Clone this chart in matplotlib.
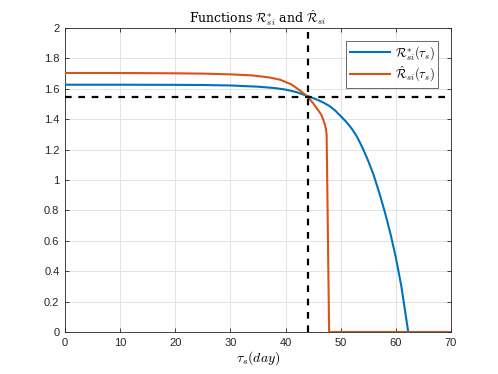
import matplotlib
matplotlib.use("Agg")
import matplotlib.pyplot as plt

# Data
blue_x = [0, 10, 20, 25, 30, 35, 38, 40, 42, 44, 45, 46, 47, 48, 49, 50, 51, 52, 53, 54, 55, 56, 57, 58,
          59, 60, 61, 62, 62.25]
blue_y = [1.627, 1.627, 1.626, 1.625, 1.622, 1.614, 1.605, 1.595, 1.578, 1.552, 1.539, 1.524, 1.507,
          1.486, 1.457, 1.42, 1.383, 1.338, 1.282, 1.208, 1.125, 1.03, 0.915, 0.79, 0.65, 0.49, 0.30,
          0.06, 0.0]
orange_x = [0, 10, 20, 25, 30, 34, 37, 39, 41, 42, 43, 44, 45, 46, 46.5, 47, 47.3, 47.45, 47.9, 70]
orange_y = [1.704, 1.704, 1.702, 1.70, 1.695, 1.688, 1.675, 1.66, 1.63, 1.605, 1.578, 1.548,
            1.505, 1.455, 1.428, 1.38, 1.34, 1.296, 0.0, 0.0]
vline_x = 44
hline_y = 1.546

xticks = [0, 10, 20, 30, 40, 50, 60, 70]
yticks = [0, 0.2, 0.4, 0.6, 0.8, 1, 1.2, 1.4, 1.6, 1.8, 2]
ytick_labels = ["0", "0.2", "0.4", "0.6", "0.8", "1", "1.2", "1.4", "1.6", "1.8", "2"]

plt.rcParams['font.family'] = ['Liberation Sans', 'DejaVu Sans']
plt.rcParams['mathtext.fontset'] = 'cm'

fig = plt.figure(figsize=(4.98, 3.74), dpi=100)
ax = fig.add_axes([0.1305, 0.1123, 0.7751, 0.8128])

ax.plot(blue_x, blue_y, color='#0072BD', lw=1.5, label=r'$\mathcal{R}^{*}_{si}(\tau_s)$', zorder=3)
ax.plot(orange_x, orange_y, color='#D95319', lw=1.5, label=r'$\hat{\mathcal{R}}_{si}(\tau_s)$', zorder=3)
ax.axvline(vline_x, color='black', lw=1.6, ls=(0, (3, 3)), zorder=4)
ax.axhline(hline_y, color='black', lw=1.6, ls=(0, (3, 3)), zorder=4)

ax.set_xlim(0, 70)
ax.set_ylim(0, 2)
ax.set_xticks(xticks)
ax.set_yticks(yticks)
ax.set_yticklabels(ytick_labels)
ax.grid(True, color='#e3e3e3', lw=0.7)
ax.set_axisbelow(True)
ax.tick_params(direction='in', length=3, width=0.6, top=True, right=True,
               labelsize=8, colors='#262626', pad=4)
for s in ax.spines.values():
    s.set_color('#262626')
    s.set_linewidth(0.6)

ax.set_title(r'Functions $\mathcal{R}^{*}_{si}$ and $\hat{\mathcal{R}}_{si}$',
             fontsize=9, family='serif', pad=4)
ax.set_xlabel(r'$\tau_s(day)$', fontsize=10, labelpad=1)

leg = ax.legend(loc='upper right', fontsize=9, frameon=True, fancybox=False,
                edgecolor='#262626', handlelength=3.2, borderaxespad=1.0,
                labelspacing=0.2, borderpad=0.3, handletextpad=0.4)
leg.get_frame().set_linewidth(0.6)

fig.savefig('out.png', dpi=100)
